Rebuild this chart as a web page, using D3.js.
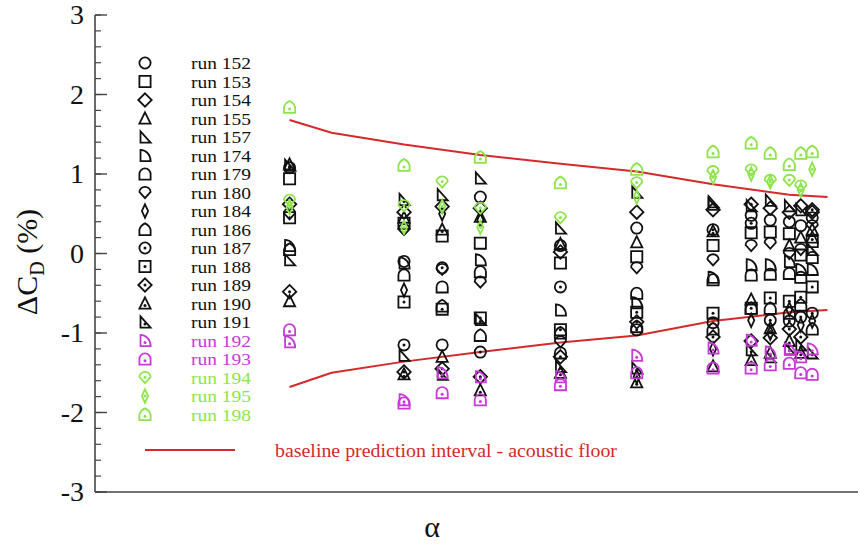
<!DOCTYPE html>
<meta charset="utf-8">
<script src="https://d3js.org/d3.v7.min.js"></script>
<style>
  body { margin: 0; background: #fff; }
  text { font-family: "Liberation Serif", "DejaVu Serif", serif; }
</style>
<div id="chart"></div>
<script>
// alpha stations (no tick labels on the original x axis)
var alpha = [1.1, 4.1, 5.1, 6.1, 8.2, 10.2, 12.2, 13.2, 13.7, 14.2, 14.5, 14.8];

// delta CD (%) per run, one value per alpha station (null = not measured)
var run152 = [null, -0.10, -1.15, 0.71, 0.10, 0.32, -0.87, 0.48, 0.42, 0.40, 0.35, 0.45];
var run153 = [0.94, 0.38, 0.22, 0.13, -0.12, -0.04, 0.10, 0.26, 0.27, 0.25, -0.02, 0.15];
var run154 = [0.62, 0.52, 0.59, 0.57, 0.02, 0.52, 0.55, -1.10, 0.57, 0.52, 0.60, 0.52];
var run155 = [-0.60, 0.45, -1.30, 0.46, 0.12, 0.14, -1.42, -0.58, -0.94, 0.10, 0.20, 0.30];
var run157 = [-0.08, -1.28, 0.74, 0.95, 0.32, 0.77, 0.62, 0.60, 0.67, 0.60, 0.55, 0.05];
var run174 = [0.10, -0.12, null, -0.08, -0.71, -0.62, -0.30, -0.14, -0.14, -0.10, -0.20, -0.20];
var run179 = [null, -0.27, -0.42, -0.23, -1.25, -0.50, -0.33, -0.27, -0.26, -0.25, -0.30, -0.05];
var run180 = [0.50, 0.30, -0.20, -0.36, -1.11, -0.18, -0.08, 0.10, 0.13, 0.00, 0.05, 0.35];
var run184 = [null, -0.46, 0.50, 0.42, null, -1.55, -1.20, -0.84, -1.00, -0.70, -0.90, -0.85];
var run186 = [0.05, null, -0.66, -1.03, -1.00, -0.92, -0.95, -0.69, -0.69, -0.75, -0.65, -0.95];
var run187 = [1.08, -1.15, -0.18, -1.24, -0.42, -0.96, 0.30, 0.38, -0.84, -0.85, -0.80, -0.75];
var run188 = [0.45, -0.61, -0.70, -0.81, -0.96, -0.74, -0.75, -0.69, -0.56, -0.60, -0.55, -0.42];
var run189 = [-0.48, -1.49, -1.45, -1.55, -1.30, -0.86, -1.05, 0.62, -1.06, -0.95, -1.05, 0.55];
var run190 = [1.12, -1.52, 0.30, -1.72, -1.50, -1.62, 0.28, -1.34, -1.25, -1.10, -1.25, 0.20];
var run191 = [1.11, 0.68, -1.52, -0.83, -1.42, -1.44, 0.65, -1.21, -1.30, -1.20, -1.15, -1.25];
var run192 = [-1.11, -1.84, -1.50, -1.55, -1.55, -1.28, -1.19, -1.09, -1.24, -1.20, -1.30, -1.20];
var run193 = [-0.96, -1.88, -1.75, -1.84, -1.65, -1.50, -1.44, -1.44, -1.40, -1.38, -1.50, -1.52];
var run194 = [0.67, 0.60, 0.90, 0.57, 0.45, 0.89, 1.03, 1.05, 0.92, 0.92, 0.85, null];
var run195 = [0.58, 0.33, 0.59, 0.33, null, 0.71, 0.96, 1.00, 0.90, null, 0.80, 1.06];
var run198 = [1.84, 1.11, null, 1.21, 0.89, 1.06, 1.28, 1.39, 1.26, 1.12, 1.26, 1.28];

var runNames = ["152", "153", "154", "155", "157", "174", "179", "180", "184", "186",
                "187", "188", "189", "190", "191", "192", "193", "194", "195", "198"];
var runValues = [run152, run153, run154, run155, run157, run174, run179, run180, run184, run186,
                 run187, run188, run189, run190, run191, run192, run193, run194, run195, run198];

// baseline prediction interval (acoustic floor)
var floorAlpha = [1.1, 2.2, 4.1, 6.1, 8.2, 10.2, 12.2, 14.2, 15.2];
var floorUpper = [1.68, 1.52, 1.37, 1.24, 1.13, 1.03, 0.87, 0.74, 0.71];
var floorLower = [-1.68, -1.50, -1.36, -1.24, -1.12, -1.03, -0.85, -0.74, -0.71];

var yTicks = [-3, -2, -1, 0, 1, 2, 3];

// marker style per run
var shapeOf = {
  "152": "circle", "153": "square", "154": "diamond", "155": "triangle", "157": "rtri",
  "174": "quarter", "179": "dome", "180": "drop", "184": "thin", "186": "house",
  "187": "circle", "188": "square", "189": "diamond", "190": "triangle", "191": "rtri",
  "192": "quarter", "193": "dome", "194": "drop", "195": "thin", "198": "house"
};
var dotted = ["187", "188", "189", "190", "191", "192", "193", "194", "195", "198"];
var magenta = "#c83ad8", green = "#8ee44c", red = "#d42a2a";
function colorOf(name) {
  if (name === "192" || name === "193") return magenta;
  if (name === "194" || name === "195" || name === "198") return green;
  return "#111";
}

function shapePath(shape, r) {
  switch (shape) {
    case "circle":
      return "M" + (-r) + ",0A" + r + "," + r + " 0 1,0 " + r + ",0A" + r + "," + r + " 0 1,0 " + (-r) + ",0Z";
    case "square":
      return "M" + (-r) + "," + (-r) + "H" + r + "V" + r + "H" + (-r) + "Z";
    case "diamond":
      return "M0," + (-r * 1.2) + "L" + (r * 1.2) + ",0L0," + (r * 1.2) + "L" + (-r * 1.2) + ",0Z";
    case "triangle":
      return "M0," + (-r * 1.1) + "L" + r + "," + (r * 0.9) + "L" + (-r) + "," + (r * 0.9) + "Z";
    case "rtri":
      return "M" + (-r * 0.8) + "," + (-r) + "L" + r + "," + r + "L" + (-r * 0.8) + "," + r + "Z";
    case "quarter":
      return "M" + (-r * 0.8) + "," + (-r) + "A" + (r * 1.8) + "," + (r * 2) + " 0 0,1 " + r + "," + r +
             "L" + (-r * 0.8) + "," + r + "Z";
    case "dome":
      return "M" + (-r) + "," + r + "V0A" + r + "," + r + " 0 0,1 " + r + ",0V" + r + "Z";
    case "drop":
      return "M" + (-r) + "," + (-r * 0.1) + "A" + r + "," + (r * 0.9) + " 0 0,1 " + r + "," + (-r * 0.1) +
             "L0," + r + "Z";
    case "thin":
      return "M0," + (-r * 1.2) + "L" + (r * 0.55) + ",0L0," + (r * 1.2) + "L" + (-r * 0.55) + ",0Z";
    case "house":
      return "M" + (-r) + "," + r + "V" + (r * 0.05) + "Q" + (-r * 0.85) + "," + (-r * 0.7) + " 0," + (-r * 1.1) +
             "Q" + (r * 0.85) + "," + (-r * 0.7) + " " + r + "," + (r * 0.05) + "V" + r + "Z";
  }
}
function dotY(shape, r) {
  if (shape === "triangle" || shape === "rtri" || shape === "quarter") return r * 0.35;
  if (shape === "dome" || shape === "house") return r * 0.3;
  if (shape === "drop") return -r * 0.05;
  return 0;
}

var W = 860, H = 548;
var svg = d3.select("#chart").append("svg").attr("width", W).attr("height", H);

var x = d3.scaleLinear().domain([-4, 16]).range([95, 858]);
var y = d3.scaleLinear().domain([-3, 3]).range([492, 15]);

// axes: left with inward ticks, bottom plain line
var axisColor = "#444";
var minor = d3.range(-3, 3.001, 0.2).map(function(v) { return Math.round(v * 10) / 10; });
svg.append("g").selectAll("line.minor").data(minor).enter().append("line")
  .attr("x1", x(-4)).attr("x2", x(-4) + 6)
  .attr("y1", function(d) { return y(d); }).attr("y2", function(d) { return y(d); })
  .attr("stroke", axisColor).attr("stroke-width", 1.2);
svg.append("g").selectAll("line.major").data(yTicks).enter().append("line")
  .attr("x1", x(-4)).attr("x2", x(-4) + 12)
  .attr("y1", function(d) { return y(d); }).attr("y2", function(d) { return y(d); })
  .attr("stroke", axisColor).attr("stroke-width", 1.4);
svg.append("g").selectAll("text").data(yTicks).enter().append("text")
  .attr("x", 84).attr("y", function(d) { return y(d) + 9; })
  .attr("text-anchor", "end").attr("font-size", 28).attr("fill", "#111")
  .text(function(d) { return d; });
svg.append("line").attr("x1", x(-4)).attr("x2", x(-4)).attr("y1", y(3)).attr("y2", y(-3))
  .attr("stroke", axisColor).attr("stroke-width", 1.6);
svg.append("line").attr("x1", x(-4)).attr("x2", 858).attr("y1", y(-3)).attr("y2", y(-3))
  .attr("stroke", axisColor).attr("stroke-width", 1.6);

// axis titles
var yl = svg.append("text").attr("transform", "translate(37,262) rotate(-90)")
  .attr("text-anchor", "middle").attr("font-size", 30).attr("fill", "#111");
yl.append("tspan").text("\u0394C");
yl.append("tspan").attr("font-size", 20).attr("dy", 7).text("D");
yl.append("tspan").attr("dy", -7).text(" (%)");
svg.append("text").attr("x", 432).attr("y", 537).attr("text-anchor", "middle")
  .attr("font-size", 30).attr("fill", "#111").text("\u03b1");

// acoustic floor lines
var line = d3.line().x(function(d) { return x(d[0]); }).y(function(d) { return y(d[1]); });
[floorUpper, floorLower].forEach(function(vals) {
  svg.append("path").datum(floorAlpha.map(function(a, i) { return [a, vals[i]]; }))
    .attr("d", line).attr("fill", "none").attr("stroke", red).attr("stroke-width", 2);
});

// markers
var R = 5.6;
function drawMarker(g, name) {
  var shape = shapeOf[name], col = colorOf(name);
  g.append("path").attr("d", shapePath(shape, R))
    .attr("fill", "none").attr("stroke", col).attr("stroke-width", 1.8);
  if (dotted.indexOf(name) >= 0) {
    g.append("circle").attr("cy", dotY(shape, R)).attr("r", 1.5).attr("fill", col);
  }
}
runNames.forEach(function(name, k) {
  var pts = [];
  runValues[k].forEach(function(v, i) { if (v !== null) pts.push([alpha[i], v]); });
  svg.append("g").selectAll("g").data(pts).enter().append("g")
    .attr("transform", function(d) { return "translate(" + x(d[0]) + "," + y(d[1]) + ")"; })
    .each(function() { drawMarker(d3.select(this), name); });
});

// legend
runNames.forEach(function(name, i) {
  var cy = 63 + i * 18.5;
  var g = svg.append("g").attr("transform", "translate(145," + cy + ")");
  drawMarker(g, name);
  svg.append("text").attr("x", 191).attr("y", cy + 6).attr("font-size", 16.5)
    .attr("textLength", 60).attr("lengthAdjust", "spacingAndGlyphs")
    .attr("fill", colorOf(name))
    .text("run " + name);
});
svg.append("line").attr("x1", 145).attr("x2", 235).attr("y1", 450).attr("y2", 450)
  .attr("stroke", red).attr("stroke-width", 2);
svg.append("text").attr("x", 275).attr("y", 457).attr("font-size", 18).attr("fill", red)
  .attr("textLength", 342).attr("lengthAdjust", "spacingAndGlyphs")
  .text("baseline prediction interval - acoustic floor");
</script>
